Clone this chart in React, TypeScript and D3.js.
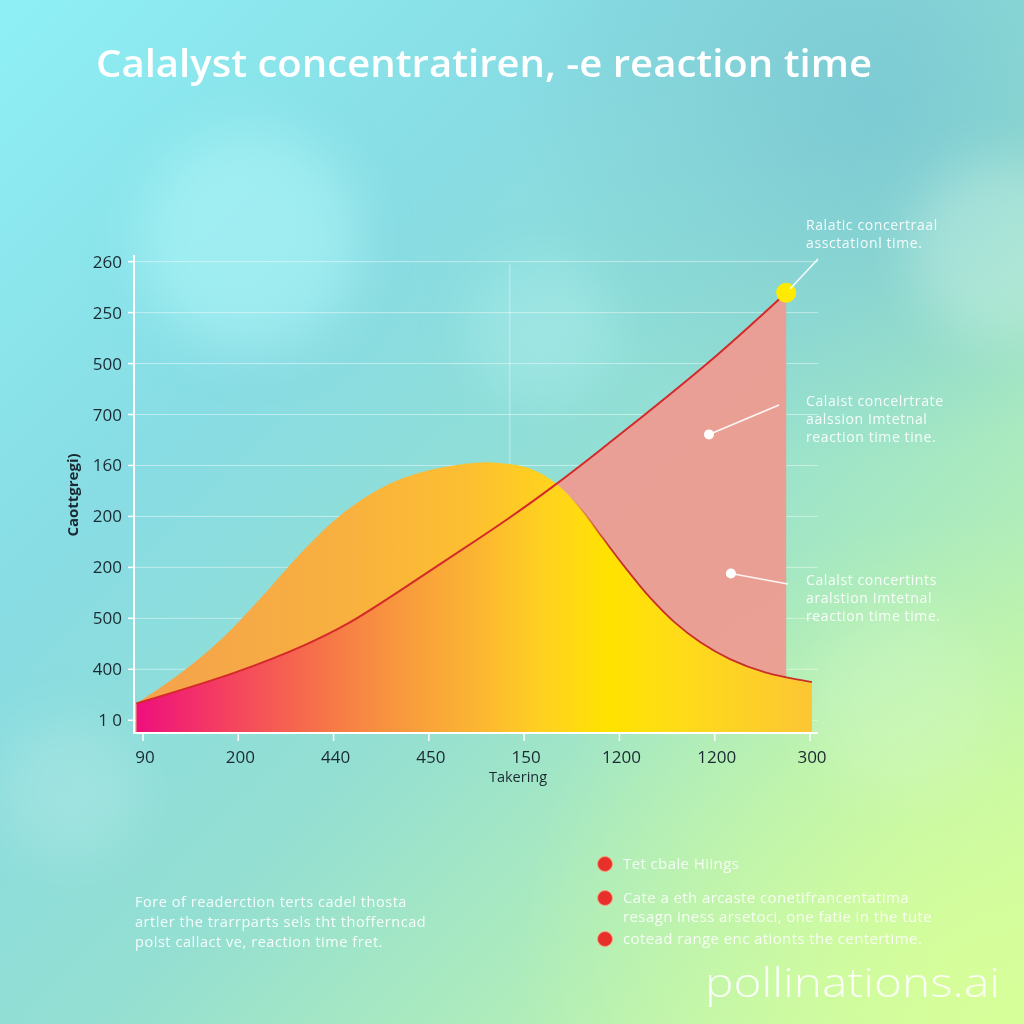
import React from "react";
import * as d3 from "d3";

// ---------- data ----------
const TITLE = "Calalyst concentratiren, -e reaction time";
const xTickLabels = ["90", "200", "440", "450", "150", "1200", "1200", "300"];
const yTickLabels = ["1 0", "400", "500", "200", "200", "160", "700", "500", "250", "260"];
const xAxisTitle = "Takering";
const yAxisTitle = "Caottgregi)";

// rising line (x in tick-index units, y in tick-index units)
const redX = [-0.07, 0.97, 1.69, 2.17, 3.13, 3.85, 4.29, 5.06, 6.02, 6.75];
const redY = [0.33, 0.94, 1.47, 1.92, 3.08, 3.98, 4.57, 5.69, 7.16, 8.39];

// bell-shaped area
const bellX = [-0.07, 0.39, 0.81, 1.23, 1.65, 2.07, 2.49, 2.91, 3.33, 3.66, 4.06, 4.33, 4.59, 4.82, 5.06, 5.32, 5.58, 5.85, 6.16, 6.53, 7.02];
const bellY = [0.33, 0.92, 1.57, 2.39, 3.27, 4.02, 4.55, 4.86, 5.02, 5.06, 4.94, 4.65, 4.16, 3.59, 3.0, 2.41, 1.92, 1.53, 1.2, 0.94, 0.75];

const gridXValues = [3.85];

const calloutTexts = [
  ["Ralatic concertraal", "assctationl time."],
  ["Calaist concelrtrate", "aalssion Imtetnal", "reaction time tine."],
  ["Calalst concertints", "aralstion Imtetnal", "reaction time time."],
];
// callout dots (data units)
const calloutDotX = [5.94, 6.17];
const calloutDotY = [5.61, 2.88];

const noteLines = [
  "Fore of readerction terts cadel thosta",
  "artler the trarrparts sels tht thofferncad",
  "polst callact ve, reaction time fret.",
];
const legendItems = [
  ["Tet cbale Hiings"],
  ["Cate a eth arcaste conetifrancentatima", "resagn iness arsetoci, one fatie in the tute"],
  ["cotead range enc ationts the centertime."],
];

// ---------- component ----------
export default function App() {
  const W = 1024, H = 1024;
  const x = d3.scaleLinear().domain([0, 7]).range([143, 810]);
  const y = d3.scaleLinear().domain([-0.25, 9.15]).range([733, 254]);
  const axisLeft = 134, axisRight = 818;
  const base = y(-0.25);

  const redPts = redX.map((v, i) => [v, redY[i]] as [number, number]);
  const bellPts = bellX.map((v, i) => [v, bellY[i]] as [number, number]);

  const curve = d3.curveCatmullRom.alpha(0.5);
  const line = d3.line<[number, number]>().x(d => x(d[0])).y(d => y(d[1])).curve(curve);
  const area = d3.area<[number, number]>().x(d => x(d[0])).y0(base).y1(d => y(d[1])).curve(curve);

  const redLinePath = line(redPts) || "";
  const redAreaPath = area(redPts) || "";
  const bellAreaPath = area(bellPts) || "";
  const bellLinePath = line(bellPts) || "";
  const last = redPts[redPts.length - 1];

  const font = "'Open Sans', 'DejaVu Sans', sans-serif";
  const dark = "#1b2a32";

  return (
    <svg width={W} height={H} style={{ position: "absolute", left: 0, top: 0 }} xmlns="http://www.w3.org/2000/svg">
      <defs>
        <linearGradient id="bg" x1="0" y1="0" x2="1" y2="1">
          <stop offset="0" stopColor="#8EF0F5" />
          <stop offset="0.3" stopColor="#88DCE3" />
          <stop offset="0.55" stopColor="#94DFD2" />
          <stop offset="0.8" stopColor="#B6F0B4" />
          <stop offset="1" stopColor="#D4FF9C" />
        </linearGradient>
        <radialGradient id="tr" cx="0.85" cy="0.1" r="0.35">
          <stop offset="0" stopColor="#74C2D2" stopOpacity="0.7" />
          <stop offset="1" stopColor="#74C2D2" stopOpacity="0" />
        </radialGradient>
        <radialGradient id="br" cx="0.95" cy="0.95" r="0.45">
          <stop offset="0" stopColor="#D8FF98" stopOpacity="0.8" />
          <stop offset="1" stopColor="#D8FF98" stopOpacity="0" />
        </radialGradient>
        <filter id="blur" x="-50%" y="-50%" width="200%" height="200%">
          <feGaussianBlur stdDeviation="25" />
        </filter>
        <linearGradient id="bellGrad" gradientUnits="userSpaceOnUse" x1="136" y1="0" x2="812" y2="0">
          <stop offset="0" stopColor="#F4A24C" />
          <stop offset="0.3" stopColor="#F8B040" />
          <stop offset="0.5" stopColor="#FDC030" />
          <stop offset="0.62" stopColor="#FFD41C" />
          <stop offset="0.7" stopColor="#FFE300" />
          <stop offset="0.8" stopColor="#FFDC18" />
          <stop offset="1" stopColor="#FCC634" />
        </linearGradient>
        <linearGradient id="hotGrad" gradientUnits="userSpaceOnUse" x1="136" y1="0" x2="812" y2="0">
          <stop offset="0" stopColor="#EE0E7E" stopOpacity="1" />
          <stop offset="0.12" stopColor="#F43C62" stopOpacity="1" />
          <stop offset="0.27" stopColor="#F66E4A" stopOpacity="0.95" />
          <stop offset="0.42" stopColor="#F8963C" stopOpacity="0.7" />
          <stop offset="0.6" stopColor="#FBB030" stopOpacity="0" />
        </linearGradient>
        <linearGradient id="strokeFade" gradientUnits="userSpaceOnUse" x1="570" y1="0" x2="610" y2="0">
          <stop offset="0" stopColor="#C8302A" stopOpacity="0" />
          <stop offset="1" stopColor="#C8302A" stopOpacity="1" />
        </linearGradient>
        <clipPath id="bellClip">
          <path d={bellAreaPath} />
        </clipPath>
        <clipPath id="rightClip">
          <rect x={570} y={0} width={290} height={H} />
        </clipPath>
      </defs>

      {/* background */}
      <rect width={W} height={H} fill="url(#bg)" />
      <rect width={W} height={H} fill="url(#tr)" />
      <rect width={W} height={H} fill="url(#br)" />
      <g filter="url(#blur)">
        <circle cx={250} cy={240} r={110} fill="#B0F8FA" opacity={0.55} />
        <circle cx={1000} cy={250} r={90} fill="#E8FFF0" opacity={0.3} />
        <circle cx={540} cy={330} r={70} fill="#C8FAFA" opacity={0.25} />
        <circle cx={70} cy={790} r={70} fill="#D0F4EE" opacity={0.25} />
        <circle cx={900} cy={700} r={90} fill="#E8FFE0" opacity={0.2} />
      </g>

      {/* title */}
      <text x={96} y={77} fill="#FFFFFF" fontFamily={font} fontWeight={600} fontSize={38}
        textLength={776} lengthAdjust="spacingAndGlyphs">{TITLE}</text>

      {/* gridlines */}
      <g stroke="#FFFFFF" strokeOpacity={0.45} strokeWidth={1}>
        {yTickLabels.map((_, i) => (
          <line key={i} x1={axisLeft} x2={axisRight} y1={y(i)} y2={y(i)} />
        ))}
        {gridXValues.map((v, i) => (
          <line key={"gx" + i} x1={x(v)} x2={x(v)} y1={y(8.95)} y2={base} />
        ))}
      </g>

      {/* pink region (under rising line) */}
      <path d={redAreaPath} fill="#EC9C92" fillOpacity={0.96} />
      {/* bell area */}
      <path d={bellAreaPath} fill="url(#bellGrad)" />
      {/* hot overlay under line inside bell */}
      <g clipPath="url(#bellClip)">
        <path d={redAreaPath} fill="url(#hotGrad)" />
      </g>
      {/* strokes */}
      <g clipPath="url(#rightClip)">
        <path d={bellLinePath} fill="none" stroke="url(#strokeFade)" strokeWidth={1.8} />
      </g>
      <path d={redLinePath} fill="none" stroke="#D42A2A" strokeWidth={2} />
      <circle cx={x(last[0])} cy={y(last[1])} r={10} fill="#FFEB00" />

      {/* axes */}
      <g stroke="#FFFFFF" strokeWidth={2}>
        <line x1={axisLeft} x2={axisLeft} y1={255} y2={base + 1} />
        <line x1={axisLeft} x2={axisRight} y1={base} y2={base} />
        {yTickLabels.map((_, i) => (
          <line key={i} x1={axisLeft - 6} x2={axisLeft} y1={y(i)} y2={y(i)} strokeWidth={1.5} />
        ))}
        {xTickLabels.map((_, i) => (
          <line key={i} x1={x(i)} x2={x(i)} y1={base} y2={base + 8} strokeWidth={1.5} />
        ))}
      </g>
      <g fontFamily={font} fontSize={17} fill={dark}>
        {yTickLabels.map((t, i) => (
          <text key={i} x={122} y={y(i) + 6} textAnchor="end">{t}</text>
        ))}
        {xTickLabels.map((t, i) => (
          <text key={i} x={x(i) + 2} y={763} textAnchor="middle">{t}</text>
        ))}
      </g>
      <text x={518} y={782} textAnchor="middle" fontFamily={font} fontSize={14.5} fill={dark}>{xAxisTitle}</text>
      <text transform="translate(78,495) rotate(-90)" textAnchor="middle" fontFamily={font} fontWeight={700}
        fontSize={15} fill={dark}>{yAxisTitle}</text>

      {/* callouts */}
      <g stroke="#FFFFFF" strokeWidth={1.6} strokeOpacity={0.9}>
        <line x1={x(last[0]) + 4} y1={y(last[1]) - 4} x2={818} y2={259} />
        {calloutDotX.map((v, i) => (
          <line key={i} x1={x(v)} y1={y(calloutDotY[i])} x2={i === 0 ? 779 : 788} y2={i === 0 ? 405 : 584} />
        ))}
      </g>
      {calloutDotX.map((v, i) => (
        <circle key={i} cx={x(v)} cy={y(calloutDotY[i])} r={5} fill="#FFFFFF" />
      ))}
      <g fontFamily={font} fontSize={14} letterSpacing={0.6} fill="#FFFFFF" fillOpacity={0.9}>
        {calloutTexts.map((lines, k) => {
          const y0 = [230, 406, 585][k];
          return lines.map((s, j) => (
            <text key={k + "-" + j} x={806} y={y0 + j * 18}>{s}</text>
          ));
        })}
      </g>

      {/* note */}
      <g fontFamily={font} fontSize={14.5} letterSpacing={0.55} fill="#FFFFFF" fillOpacity={0.9}>
        {noteLines.map((s, i) => (
          <text key={i} x={135} y={907 + i * 20}>{s}</text>
        ))}
      </g>

      {/* legend */}
      {legendItems.map((lines, k) => {
        const cy = [864, 898, 939][k];
        return (
          <g key={k}>
            <circle cx={605} cy={cy} r={7.5} fill="#E8302A" stroke="#F6A080" strokeWidth={1} />
            {lines.map((s, j) => (
              <text key={j} x={623} y={cy + j * 19 + 5} fontFamily={font} fontSize={15} letterSpacing={0.4}
                fill="#FFFFFF" fillOpacity={0.85}>{s}</text>
            ))}
          </g>
        );
      })}

      {/* watermark */}
      <text x={705} y={997} fontFamily={font} fontWeight={300} fontSize={40} fill="#FFFFFF" fillOpacity={0.9}
        textLength={295} lengthAdjust="spacingAndGlyphs">pollinations.ai</text>
    </svg>
  );
}
